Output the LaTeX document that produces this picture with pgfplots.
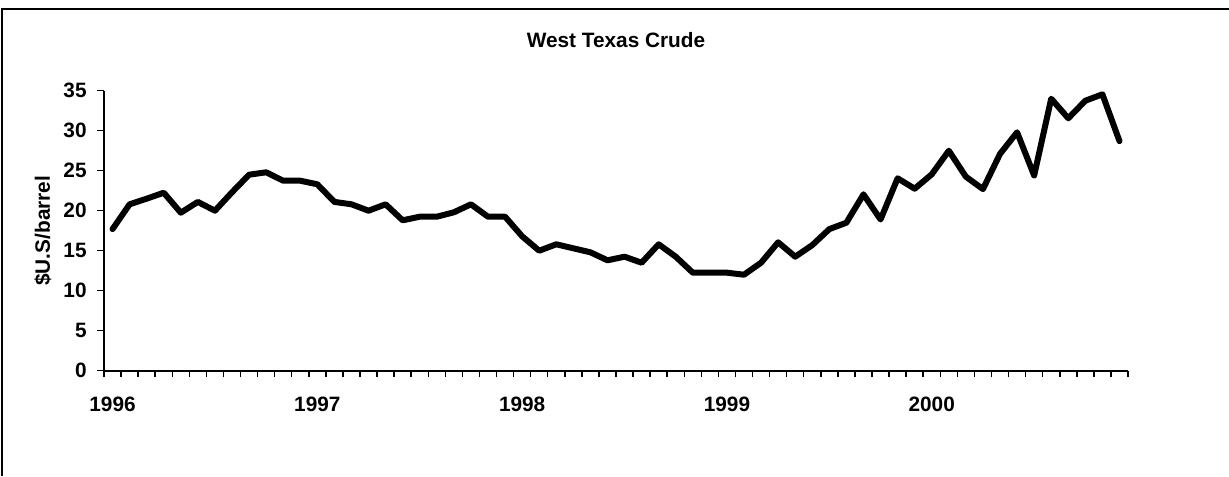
\documentclass[border=0pt]{standalone}
\usepackage{fontspec}
\setmainfont{Liberation Sans}
\usepackage{pgfplots}
\pgfplotsset{compat=1.18}
\newcommand{\lblfont}{\bfseries\fontsize{10.4}{12}\selectfont}
\begin{document}
\begin{tikzpicture}
	\useasboundingbox (0,0) rectangle (614.5pt,-238pt);
	% frame of the chart area (left and top edges are all that show)
	\draw[line width=1pt] (1.2pt,-238pt) -- (1.2pt,-4.5pt) -- (614.5pt,-4.5pt);
	\begin{axis}[
		at={(52pt,-185.35pt)}, anchor=south west,
		scale only axis, width=512pt, height=140pt,
		xmin=-0.5, xmax=59.5, ymin=0, ymax=35,
		axis x line*=bottom, axis y line*=left,
		axis line style={line width=1pt},
		tick align=outside,
		xtick={0,12,24,36,48},
		xticklabels={1996,1997,1998,1999,2000},
		major x tick style={draw=none},
		minor xtick={-0.5,0.5,...,59.5},
		minor tick length=3pt,
		ytick={0,5,...,35},
		major tick length=3.5pt,
		tick style={line width=0.75pt, black},
		/pgf/number format/assume math mode=true,
		ticklabel style={font=\lblfont},
		xticklabel style={inner sep=0pt, anchor=base, yshift=-17pt},
		yticklabel style={inner sep=0pt, anchor=east, xshift=-5pt},
		title={West Texas Crude},
		title style={font=\lblfont, at={(0.5,1)}, anchor=center, yshift=19.35pt},
		ylabel={\$U.S/barrel},
		ylabel style={font=\lblfont, at={(axis description cs:-0.0596,0.5)}, anchor=center},
		clip=false,
	]
		\addplot[black, line width=3pt, line join=round, line cap=round] coordinates {
			(0,17.7) (1,20.8) (2,21.5) (3,22.25) (4,19.75) (5,21.1) (6,20.0) (7,22.3)
			(8,24.5) (9,24.8) (10,23.75) (11,23.75) (12,23.3) (13,21.1) (14,20.8) (15,20.0)
			(16,20.8) (17,18.8) (18,19.25) (19,19.25) (20,19.8) (21,20.8) (22,19.25) (23,19.25)
			(24,16.8) (25,15.0) (26,15.8) (27,15.3) (28,14.8) (29,13.8) (30,14.25) (31,13.5)
			(32,15.8) (33,14.25) (34,12.25) (35,12.25) (36,12.25) (37,12.0) (38,13.5) (39,16.05)
			(40,14.25) (41,15.7) (42,17.7) (43,18.5) (44,22.05) (45,18.9) (46,24.05) (47,22.75)
			(48,24.55) (49,27.5) (50,24.25) (51,22.7) (52,27.1) (53,29.8) (54,24.4) (55,34.0)
			(56,31.55) (57,33.75) (58,34.55) (59,28.7)
		};
	\end{axis}
\end{tikzpicture}
\end{document}
